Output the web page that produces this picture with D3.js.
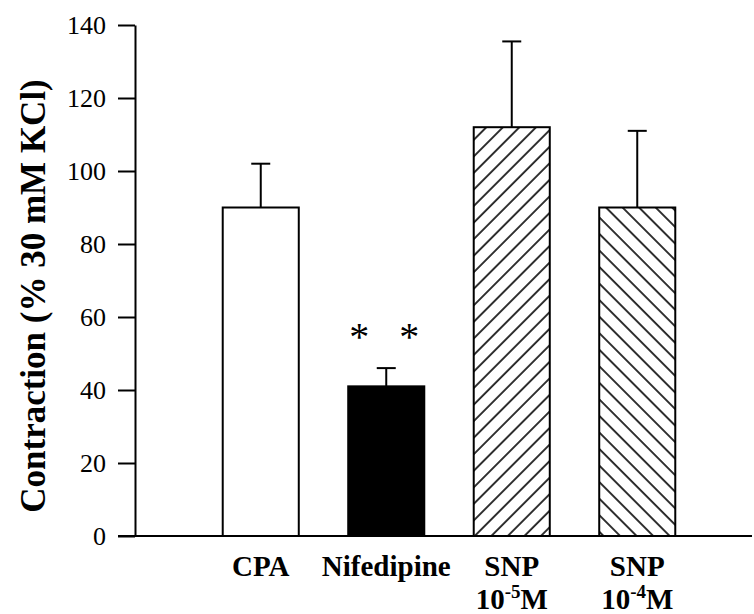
<!DOCTYPE html>
<html>
<head>
<meta charset="utf-8">
<script src="https://cdn.jsdelivr.net/npm/d3@7"></script>
<style>
  body { margin: 0; background: #fff; }
</style>
</head>
<body>
<svg width="754" height="614" font-family="Liberation Serif"></svg>
<script>
// data
var categories = ["CPA", "Nifedipine", "SNP-5", "SNP-4"];
var values = [90, 41, 112, 90];
var errors = [12, 5, 23.5, 21];
var fills = ["white", "black", "url(#hatchUp)", "url(#hatchDown)"];
var labelLine1 = ["CPA", "Nifedipine", "SNP", "SNP"];
var labelExp = [null, null, "-5", "-4"];
var yTicks = [0, 20, 40, 60, 80, 100, 120, 140];

var FONT = "Liberation Serif";

var svg = d3.select("svg"),
  width = +svg.attr("width"),
  height = +svg.attr("height");

// hatch patterns
var defs = svg.append("defs");
function hatch(id, angle) {
  var p = defs.append("pattern")
    .attr("id", id)
    .attr("patternUnits", "userSpaceOnUse")
    .attr("width", 11.7)
    .attr("height", 11.7)
    .attr("patternTransform", "rotate(" + angle + ")");
  p.append("rect").attr("width", 11.7).attr("height", 11.7).attr("fill", "white");
  p.append("line")
    .attr("x1", 1).attr("x2", 1)
    .attr("y1", 0).attr("y2", 11.7)
    .attr("stroke", "black").attr("stroke-width", 1.6);
}
hatch("hatchUp", 45);
hatch("hatchDown", -45);

// scales
var x = d3.scaleBand()
  .domain(categories)
  .range([198, 700])
  .paddingInner(0.394)
  .paddingOuter(0.197);

var y = d3.scaleLinear().domain([0, 140]).range([536, 25]);

// error bars (upper only)
var eb = svg.append("g");
categories.forEach(function (c, i) {
  var cx = x(c) + x.bandwidth() / 2;
  eb.append("line")
    .attr("x1", cx).attr("x2", cx)
    .attr("y1", y(values[i])).attr("y2", y(values[i] + errors[i]))
    .attr("stroke", "black").attr("stroke-width", 2);
  eb.append("line")
    .attr("x1", cx - 9.5).attr("x2", cx + 9.5)
    .attr("y1", y(values[i] + errors[i])).attr("y2", y(values[i] + errors[i]))
    .attr("stroke", "black").attr("stroke-width", 2);
});

// bars
svg.append("g")
  .selectAll("rect")
  .data(categories)
  .enter()
  .append("rect")
  .attr("x", function (d) { return x(d); })
  .attr("y", function (d, i) { return y(values[i]); })
  .attr("width", x.bandwidth())
  .attr("height", function (d, i) { return y(0) - y(values[i]); })
  .attr("fill", function (d, i) { return fills[i]; })
  .attr("stroke", "black")
  .attr("stroke-width", 2);

// y axis
var yAxis = svg.append("g")
  .attr("transform", "translate(135,0)")
  .call(d3.axisLeft(y).tickValues(yTicks).tickSize(17).tickSizeOuter(0).tickPadding(12));
yAxis.attr("font-family", FONT).attr("font-size", 26);
yAxis.select(".domain").attr("stroke-width", 2);
yAxis.selectAll(".tick line").attr("stroke-width", 2);
yAxis.selectAll(".tick text")
  .attr("font-family", FONT)
  .attr("font-size", 26)
  .attr("fill", "black");

// x axis line
svg.append("line")
  .attr("x1", 118).attr("x2", 752)
  .attr("y1", y(0)).attr("y2", y(0))
  .attr("stroke", "black").attr("stroke-width", 2);

// significance marks
var nc = x("Nifedipine") + x.bandwidth() / 2;
svg.append("text")
  .attr("x", nc - 2)
  .attr("y", 350)
  .attr("text-anchor", "middle")
  .attr("font-family", FONT)
  .attr("font-size", 40)
  .attr("xml:space", "preserve")
  .text("*   *");

// x labels
var lab = svg.append("g")
  .attr("font-family", FONT)
  .attr("font-weight", "bold")
  .attr("font-size", 29);
categories.forEach(function (c, i) {
  var cx = x(c) + x.bandwidth() / 2;
  lab.append("text")
    .attr("x", cx).attr("y", 576)
    .attr("text-anchor", "middle")
    .text(labelLine1[i]);
  if (labelExp[i]) {
    var t = lab.append("text")
      .attr("x", cx).attr("y", 609)
      .attr("text-anchor", "middle");
    t.append("tspan").text("10");
    t.append("tspan").attr("font-size", 19).attr("dy", -11).text(labelExp[i]);
    t.append("tspan").attr("dy", 11).text("M");
  }
});

// y title
svg.append("text")
  .attr("transform", "translate(45,296) rotate(-90)")
  .attr("text-anchor", "middle")
  .attr("font-family", FONT)
  .attr("font-weight", "bold")
  .attr("font-size", 35)
  .text("Contraction (% 30 mM KCl)");
</script>
</body>
</html>
